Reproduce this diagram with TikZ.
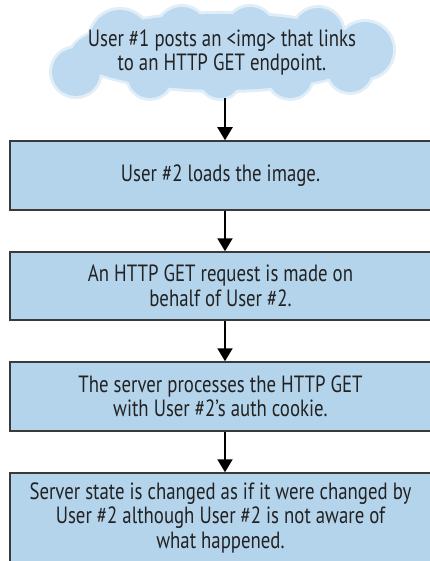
\documentclass[tikz,border=0pt]{standalone}
\usepackage{fontspec}
\setmainfont{PT Sans}[FakeStretch=0.8]
\usetikzlibrary{arrows.meta}
\definecolor{boxblue}{HTML}{B4D4EC}
\definecolor{cloudblue}{HTML}{BCD9EF}
\definecolor{edgegray}{HTML}{3A3A3A}
\definecolor{ink}{HTML}{222222}
\newcommand\mycloudpuffs[1]{%
  \fill (222,52) ellipse [x radius={(150+#1)*1pt}, y radius={(38+#1)*1pt}];
  \foreach \px/\py/\pr in {120/40/30, 182/32/25, 250/31/24, 318/33/25, 365/50/28,
                           76/72/24, 150/76/22, 220/78/20, 290/76/22, 350/70/22}
    \fill (\px,\py) circle [radius={(\pr+#1)*1pt}];}
\begin{document}
\begin{tikzpicture}[x=1pt,y=-1pt,
  txt/.style={text=ink, align=center, font=\fontsize{23.5}{24.5}\selectfont},
  stepbox/.style={txt, draw=edgegray, line width=1.5pt, fill=boxblue, minimum width=421pt, inner sep=0pt},
  flow/.style={line width=2pt, draw=black, -{Triangle[width=15pt,length=13pt]}}]
\useasboundingbox (0,0) rectangle (430,561);
\clip (0,0) rectangle (430,561);
% cloud (soft edge + body)
\begin{scope}[fill=cloudblue!45]\mycloudpuffs{3}\end{scope}
\begin{scope}[fill=cloudblue]\mycloudpuffs{0}\end{scope}
\node[txt, inner sep=0pt, minimum height=91pt] (c) at (222,52.5) {User \#1 posts an <img> that links\\to an HTTP GET endpoint.};
% boxes
\node[stepbox, minimum height=69pt] (b1) at (220.5,175.5) {User \#2 loads the image.};
\node[stepbox, minimum height=68pt] (b2) at (220.5,286) {An HTTP GET request is made on\\behalf of User \#2.};
\node[stepbox, minimum height=69pt] (b3) at (220.5,396.5) {The server processes the HTTP GET\\with User \#2's auth cookie.};
\node[stepbox, minimum height=89pt] (b4) at (220.5,517.5) {Server state is changed as if it were changed by\\User \#2 although User \#2 is not aware of\\what happened.};
% arrows
\coordinate (ax) at (225,0);
\draw[flow] (c.south -| ax) -- (b1.north -| ax);
\draw[flow] (b1.south -| ax) -- (b2.north -| ax);
\draw[flow] (b2.south -| ax) -- (b3.north -| ax);
\draw[flow] (b3.south -| ax) -- (b4.north -| ax);
\end{tikzpicture}
\end{document}
